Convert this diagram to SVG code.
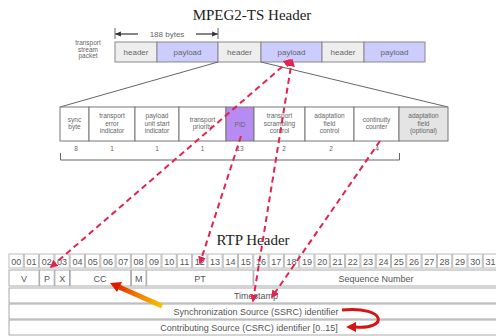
<svg xmlns="http://www.w3.org/2000/svg" width="496" height="336" viewBox="0 0 496 336">
<style>
.title{font-family:"Liberation Serif","DejaVu Serif",serif;font-size:15px;fill:#222;text-anchor:middle}
.sm{font-family:"Liberation Sans",Arial,sans-serif;font-size:6.5px;fill:#666;text-anchor:middle}
.bx{font-family:"Liberation Sans",Arial,sans-serif;font-size:8px;fill:#666;text-anchor:middle}
.num{font-family:"Liberation Sans",Arial,sans-serif;font-size:8.5px;fill:#555;text-anchor:middle}
.rtp{font-family:"Liberation Sans",Arial,sans-serif;font-size:9px;fill:#555;text-anchor:middle}
.hdr{fill:#eeeeee;stroke:#888;stroke-width:1}
.pay{fill:#ccccff;stroke:#888;stroke-width:1}
.fld{fill:#fff;stroke:#777;stroke-width:1}
.cell{fill:#fff;stroke:#bbb;stroke-width:1}
.row{fill:#fff;stroke:#aaa;stroke-width:1}
.gl{stroke:#666;stroke-width:1;fill:none}
.rd{stroke:#e2234f;stroke-width:2;stroke-dasharray:6 4;fill:none}
</style>
<defs>
<marker id="ah" viewBox="0 0 10 10" refX="8" refY="5" markerWidth="4" markerHeight="4" orient="auto-start-reverse" markerUnits="strokeWidth">
<path d="M0,0 L10,5 L0,10 z" fill="#e2234f"/>
</marker>
<marker id="bk" viewBox="0 0 10 10" refX="9" refY="5" markerWidth="6" markerHeight="6" orient="auto-start-reverse" markerUnits="userSpaceOnUse">
<path d="M0,1 L10,5 L0,9 z" fill="#333"/>
</marker>
<linearGradient id="og" gradientUnits="userSpaceOnUse" x1="162" y1="306" x2="112" y2="284">
<stop offset="0" stop-color="#f8c400"/>
<stop offset="0.5" stop-color="#f07a00"/>
<stop offset="1" stop-color="#e01800"/>
</linearGradient>
</defs>
<rect width="496" height="336" fill="#fff"/>

<text class="title" x="252" y="20">MPEG2-TS Header</text>

<g id="packet">
<text class="sm" x="88" y="45">transport</text>
<text class="sm" x="88" y="51.5">stream</text>
<text class="sm" x="88" y="58">packet</text>
<line x1="115" y1="28" x2="115" y2="39" class="gl"/>
<line x1="218" y1="28" x2="218" y2="39" class="gl"/>
<line x1="138" y1="34" x2="115.5" y2="34" stroke="#333" stroke-width="1.2" marker-end="url(#bk)"/>
<line x1="196" y1="34" x2="217.5" y2="34" stroke="#333" stroke-width="1.2" marker-end="url(#bk)"/>
<text class="bx" x="167" y="37">188 bytes</text>
<rect class="hdr" x="115" y="42" width="42" height="20"/>
<rect class="pay" x="157" y="42" width="61" height="20"/>
<rect class="hdr" x="218" y="42" width="43" height="20"/>
<rect class="pay" x="261" y="42" width="61" height="20"/>
<rect class="hdr" x="322" y="42" width="42" height="20"/>
<rect class="pay" x="364" y="42" width="61" height="20"/>
<text class="bx" x="136" y="55">header</text>
<text class="bx" x="187.5" y="55">payload</text>
<text class="bx" x="239.5" y="55">header</text>
<text class="bx" x="291.5" y="55">payload</text>
<text class="bx" x="343" y="55">header</text>
<text class="bx" x="394.5" y="55">payload</text>
</g>

<g id="ts-header">
<line x1="218" y1="62" x2="60" y2="107" class="gl"/>
<line x1="261" y1="62" x2="448" y2="107" class="gl"/>
<rect class="fld" x="60" y="107" width="29" height="34"/>
<rect class="fld" x="89" y="107" width="46" height="34"/>
<rect class="fld" x="135" y="107" width="44" height="34"/>
<rect class="fld" x="179" y="107" width="47" height="34"/>
<rect x="226" y="107" width="28" height="34" fill="#b68cf2" stroke="#777"/>
<rect class="fld" x="254" y="107" width="51" height="34"/>
<rect class="fld" x="305" y="107" width="49" height="34"/>
<rect class="fld" x="354" y="107" width="45" height="34"/>
<rect x="399" y="107" width="49" height="34" fill="#e4e4e4" stroke="#777"/>
<text class="sm" x="74.5" y="121.5">sync</text>
<text class="sm" x="74.5" y="129">byte</text>
<text class="sm" x="112" y="118">transport</text>
<text class="sm" x="112" y="125.5">error</text>
<text class="sm" x="112" y="133">indicator</text>
<text class="sm" x="157" y="118">payload</text>
<text class="sm" x="157" y="125.5">unit start</text>
<text class="sm" x="157" y="133">indicator</text>
<text class="sm" x="202.5" y="121.5">transport</text>
<text class="sm" x="202.5" y="129">priority</text>
<text class="sm" x="240" y="126.5">PID</text>
<text class="sm" x="279.5" y="118">transport</text>
<text class="sm" x="279.5" y="125.5">scrambling</text>
<text class="sm" x="279.5" y="133">control</text>
<text class="sm" x="329.5" y="118">adaptation</text>
<text class="sm" x="329.5" y="125.5">field</text>
<text class="sm" x="329.5" y="133">control</text>
<text class="sm" x="376.5" y="121.5">continuity</text>
<text class="sm" x="376.5" y="129">counter</text>
<text class="sm" x="423.5" y="118">adaptation</text>
<text class="sm" x="423.5" y="125.5">field</text>
<text class="sm" x="423.5" y="133">(optional)</text>
<text class="sm" x="76" y="151">8</text>
<text class="sm" x="112" y="151">1</text>
<text class="sm" x="157" y="151">1</text>
<text class="sm" x="202.5" y="151">1</text>
<text class="sm" x="240" y="151">13</text>
<text class="sm" x="284" y="151">2</text>
<text class="sm" x="331" y="151">2</text>
<text class="sm" x="377" y="151">4</text>
<path d="M60.5 153 V160 H399.5 V153" class="gl" stroke="#777"/>
</g>

<text class="title" x="253" y="245">RTP Header</text>

<g id="rtp-header">
<g id="bits">
<rect class="cell" x="9" y="254" width="14.3" height="14"/><text class="rtp" x="16.2" y="264.5">00</text>
<rect class="cell" x="24.3" y="254" width="14.3" height="14"/><text class="rtp" x="31.5" y="264.5">01</text>
<rect class="cell" x="39.6" y="254" width="14.3" height="14"/><text class="rtp" x="46.8" y="264.5">02</text>
<rect class="cell" x="54.9" y="254" width="14.3" height="14"/><text class="rtp" x="62.1" y="264.5">03</text>
<rect class="cell" x="70.2" y="254" width="14.3" height="14"/><text class="rtp" x="77.4" y="264.5">04</text>
<rect class="cell" x="85.5" y="254" width="14.3" height="14"/><text class="rtp" x="92.7" y="264.5">05</text>
<rect class="cell" x="100.8" y="254" width="14.3" height="14"/><text class="rtp" x="108" y="264.5">06</text>
<rect class="cell" x="116.1" y="254" width="14.3" height="14"/><text class="rtp" x="123.3" y="264.5">07</text>
<rect class="cell" x="131.4" y="254" width="14.3" height="14"/><text class="rtp" x="138.6" y="264.5">08</text>
<rect class="cell" x="146.7" y="254" width="14.3" height="14"/><text class="rtp" x="153.9" y="264.5">09</text>
<rect class="cell" x="162" y="254" width="14.3" height="14"/><text class="rtp" x="169.2" y="264.5">10</text>
<rect class="cell" x="177.3" y="254" width="14.3" height="14"/><text class="rtp" x="184.5" y="264.5">11</text>
<rect class="cell" x="192.6" y="254" width="14.3" height="14"/><text class="rtp" x="199.8" y="264.5">12</text>
<rect class="cell" x="207.9" y="254" width="14.3" height="14"/><text class="rtp" x="215.1" y="264.5">13</text>
<rect class="cell" x="223.2" y="254" width="14.3" height="14"/><text class="rtp" x="230.4" y="264.5">14</text>
<rect class="cell" x="238.5" y="254" width="14.3" height="14"/><text class="rtp" x="245.7" y="264.5">15</text>
<rect class="cell" x="253.8" y="254" width="14.3" height="14"/><text class="rtp" x="261" y="264.5">16</text>
<rect class="cell" x="269.1" y="254" width="14.3" height="14"/><text class="rtp" x="276.3" y="264.5">17</text>
<rect class="cell" x="284.4" y="254" width="14.3" height="14"/><text class="rtp" x="291.6" y="264.5">18</text>
<rect class="cell" x="299.7" y="254" width="14.3" height="14"/><text class="rtp" x="306.9" y="264.5">19</text>
<rect class="cell" x="315" y="254" width="14.3" height="14"/><text class="rtp" x="322.2" y="264.5">20</text>
<rect class="cell" x="330.3" y="254" width="14.3" height="14"/><text class="rtp" x="337.5" y="264.5">21</text>
<rect class="cell" x="345.6" y="254" width="14.3" height="14"/><text class="rtp" x="352.8" y="264.5">22</text>
<rect class="cell" x="360.9" y="254" width="14.3" height="14"/><text class="rtp" x="368.1" y="264.5">23</text>
<rect class="cell" x="376.2" y="254" width="14.3" height="14"/><text class="rtp" x="383.4" y="264.5">24</text>
<rect class="cell" x="391.5" y="254" width="14.3" height="14"/><text class="rtp" x="398.7" y="264.5">25</text>
<rect class="cell" x="406.8" y="254" width="14.3" height="14"/><text class="rtp" x="414" y="264.5">26</text>
<rect class="cell" x="422.1" y="254" width="14.3" height="14"/><text class="rtp" x="429.3" y="264.5">27</text>
<rect class="cell" x="437.4" y="254" width="14.3" height="14"/><text class="rtp" x="444.6" y="264.5">28</text>
<rect class="cell" x="452.7" y="254" width="14.3" height="14"/><text class="rtp" x="459.9" y="264.5">29</text>
<rect class="cell" x="468" y="254" width="14.3" height="14"/><text class="rtp" x="475.2" y="264.5">30</text>
<rect class="cell" x="483.3" y="254" width="14.3" height="14"/><text class="rtp" x="490.5" y="264.5">31</text>
</g>
<g id="row2">
<rect class="row" x="9" y="270" width="30" height="16"/><text class="rtp" x="24" y="281.5">V</text>
<rect class="row" x="39.6" y="270" width="14.6" height="16"/><text class="rtp" x="47" y="281.5">P</text>
<rect class="row" x="54.9" y="270" width="14.6" height="16"/><text class="rtp" x="62.2" y="281.5">X</text>
<rect class="row" x="70.2" y="270" width="60.5" height="16"/><text class="rtp" x="100" y="281.5">CC</text>
<rect class="row" x="131.4" y="270" width="14.6" height="16"/><text class="rtp" x="138.7" y="281.5">M</text>
<rect class="row" x="146.7" y="270" width="106.4" height="16"/><text class="rtp" x="200" y="281.5">PT</text>
<rect class="row" x="253.8" y="270" width="244" height="16"/><text class="rtp" x="376" y="281.5">Sequence Number</text>
</g>
<g id="timestamp"><rect class="row" x="9" y="288" width="490" height="15"/><text class="rtp" x="256" y="298.5">Timestamp</text></g>
<g id="ssrc"><rect class="row" x="9" y="304" width="490" height="15"/><text class="rtp" x="256" y="314.5">Synchronization Source (SSRC) identifier</text></g>
<g id="csrc"><rect class="row" x="9" y="320" width="490" height="15"/><text class="rtp" x="249" y="330.5">Contributing Source (CSRC) identifier [0..15]</text></g>
</g>

<g id="connectors">
<line class="rd" x1="51" y1="267" x2="290" y2="60" marker-start="url(#ah)" marker-end="url(#ah)"/>
<line class="rd" x1="253" y1="301" x2="292" y2="60" marker-start="url(#ah)" marker-end="url(#ah)"/>
<line class="rd" x1="241" y1="136" x2="200" y2="263" marker-end="url(#ah)"/>
<line class="rd" x1="380" y1="141" x2="272" y2="297" marker-end="url(#ah)"/>
<line x1="162" y1="306" x2="119" y2="287" stroke="url(#og)" stroke-width="5"/>
<path d="M110,283 L122,282 L117,292 z" fill="#e01800"/>
<path d="M342,310 C388,306 388,330 355,327" stroke="#d51515" stroke-width="3" fill="none"/>
<path d="M346,327 L356,322 L356,332 z" fill="#d51515"/>
</g>
</svg>
